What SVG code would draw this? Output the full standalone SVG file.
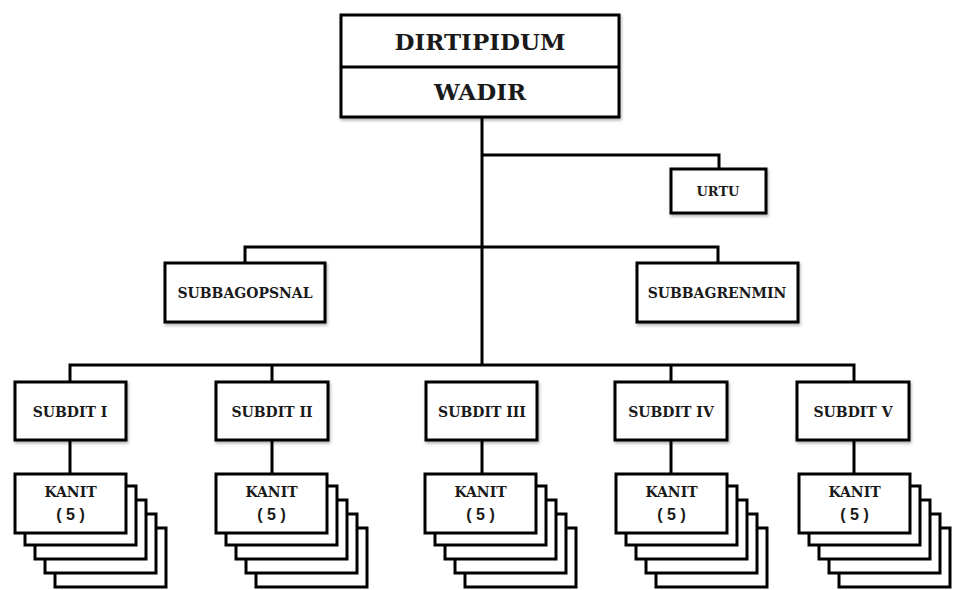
<svg xmlns="http://www.w3.org/2000/svg" width="959" height="590" viewBox="0 0 959 590">
  <defs>
    <filter id="shadow" x="-10%" y="-10%" width="130%" height="140%">
      <feDropShadow dx="1" dy="2" stdDeviation="1.5" flood-color="#000" flood-opacity="0.3"/>
    </filter>
    <!-- one sheet of a KANIT stack -->
    <rect id="sheet" width="111" height="59" fill="#fff" stroke="#000" stroke-width="3"/>
  </defs>
  <style>
    .box { fill: #fff; stroke: #000; stroke-width: 3; filter: url(#shadow); }
    .link { fill: none; stroke: #000; stroke-width: 3; }
    .lbl { font-family: "DejaVu Serif", "Liberation Serif", serif; font-weight: bold; fill: #1a1a1a; text-anchor: middle; }
    .num { font-family: "Liberation Sans", Arial, sans-serif; font-weight: bold; fill: #1a1a1a; text-anchor: middle; font-size: 16px; }
  </style>
  <rect width="959" height="590" fill="#fff"/>

  <!-- connectors -->
  <g id="connectors" class="link">
    <path d="M482 117 V365"/>
    <path d="M482 155 H719 V169"/>
    <path d="M245 263 V247 H718 V263"/>
    <path d="M70 382 V365 H854 V382"/>
    <path d="M272 365 V382"/>
    <path d="M671 365 V382"/>
    <path d="M70 440 V474"/>
    <path d="M272 440 V474"/>
    <path d="M482 440 V474"/>
    <path d="M671 440 V474"/>
    <path d="M854 440 V474"/>
  </g>

  <!-- head -->
  <g id="dirtipidum">
    <rect class="box" x="341" y="15" width="278" height="102"/>
    <line x1="341" y1="67" x2="619" y2="67" stroke="#000" stroke-width="3"/>
    <text class="lbl" x="480" y="50" font-size="23">DIRTIPIDUM</text>
    <text class="lbl" x="480" y="100" font-size="23">WADIR</text>
  </g>

  <g id="urtu">
    <rect class="box" x="671" y="169" width="95" height="44"/>
    <text class="lbl" x="718" y="196" font-size="13">URTU</text>
  </g>

  <g id="subbagopsnal">
    <rect class="box" x="165" y="263" width="160" height="59"/>
    <text class="lbl" x="245" y="298" font-size="14">SUBBAGOPSNAL</text>
  </g>

  <g id="subbagrenmin">
    <rect class="box" x="637" y="263" width="161" height="59"/>
    <text class="lbl" x="717" y="298" font-size="14">SUBBAGRENMIN</text>
  </g>

  <!-- subdit boxes -->
  <g id="subdit-1">
    <rect class="box" x="15" y="382" width="111" height="58"/>
    <text class="lbl" x="70" y="417" font-size="14">SUBDIT I</text>
  </g>
  <g id="subdit-2">
    <rect class="box" x="216" y="382" width="112" height="58"/>
    <text class="lbl" x="272" y="417" font-size="14">SUBDIT II</text>
  </g>
  <g id="subdit-3">
    <rect class="box" x="426" y="382" width="111" height="58"/>
    <text class="lbl" x="482" y="417" font-size="14">SUBDIT III</text>
  </g>
  <g id="subdit-4">
    <rect class="box" x="615" y="382" width="112" height="58"/>
    <text class="lbl" x="671" y="417" font-size="14">SUBDIT IV</text>
  </g>
  <g id="subdit-5">
    <rect class="box" x="797" y="382" width="112" height="58"/>
    <text class="lbl" x="853" y="417" font-size="14">SUBDIT V</text>
  </g>

  <!-- KANIT stacks (five sheets each) -->
  <g id="kanit-1" transform="translate(15,474)">
    <use href="#sheet" x="40" y="54"/>
    <use href="#sheet" x="30" y="40"/>
    <use href="#sheet" x="20" y="26"/>
    <use href="#sheet" x="10" y="12"/>
    <use href="#sheet" x="0" y="0"/>
    <text class="lbl" x="55.5" y="23" font-size="14">KANIT</text>
    <text class="num" x="55.5" y="46">( 5 )</text>
  </g>
  <g id="kanit-2" transform="translate(216,474)">
    <use href="#sheet" x="40" y="54"/>
    <use href="#sheet" x="30" y="40"/>
    <use href="#sheet" x="20" y="26"/>
    <use href="#sheet" x="10" y="12"/>
    <use href="#sheet" x="0" y="0"/>
    <text class="lbl" x="55.5" y="23" font-size="14">KANIT</text>
    <text class="num" x="55.5" y="46">( 5 )</text>
  </g>
  <g id="kanit-3" transform="translate(425,474)">
    <use href="#sheet" x="40" y="54"/>
    <use href="#sheet" x="30" y="40"/>
    <use href="#sheet" x="20" y="26"/>
    <use href="#sheet" x="10" y="12"/>
    <use href="#sheet" x="0" y="0"/>
    <text class="lbl" x="55.5" y="23" font-size="14">KANIT</text>
    <text class="num" x="55.5" y="46">( 5 )</text>
  </g>
  <g id="kanit-4" transform="translate(616,474)">
    <use href="#sheet" x="40" y="54"/>
    <use href="#sheet" x="30" y="40"/>
    <use href="#sheet" x="20" y="26"/>
    <use href="#sheet" x="10" y="12"/>
    <use href="#sheet" x="0" y="0"/>
    <text class="lbl" x="55.5" y="23" font-size="14">KANIT</text>
    <text class="num" x="55.5" y="46">( 5 )</text>
  </g>
  <g id="kanit-5" transform="translate(799,474)">
    <use href="#sheet" x="40" y="54"/>
    <use href="#sheet" x="30" y="40"/>
    <use href="#sheet" x="20" y="26"/>
    <use href="#sheet" x="10" y="12"/>
    <use href="#sheet" x="0" y="0"/>
    <text class="lbl" x="55.5" y="23" font-size="14">KANIT</text>
    <text class="num" x="55.5" y="46">( 5 )</text>
  </g>
</svg>
